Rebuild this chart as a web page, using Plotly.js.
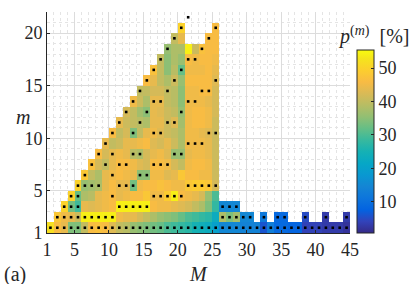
<!DOCTYPE html>
<html>
<head>
<meta charset="utf-8">
<script src="https://cdn.plot.ly/plotly-3.0.1.min.js"></script>
<style>html,body{margin:0;padding:0;background:#fff;}#chart{width:412px;height:284px;}</style>
</head>
<body>
<div id="chart"></div>
<script>
// Columns M = 1..44 (cells span [M, M+1]); rows m = 1..21 (cells span [m, m+1])
const M = [1,2,3,4,5,6,7,8,9,10,11,12,13,14,15,16,17,18,19,20,21,22,23,24,25,26,27,28,29,30,31,32,33,34,35,36,37,38,39,40,41,42,43,44];
const mRows = [1,2,3,4,5,6,7,8,9,10,11,12,13,14,15,16,17,18,19,20,21];

// p^(m) [%] per row m; each list starts at column M = m
const row1  = [52,46,44,34,34,40,46,47,46,43,40,39,36,35,34,33,32,30,29,28,27,25,24,23,20,15,15,15,14,14,14,6,13,9,9,8,8,4,4,4,3,3,3,2];
const row2  = [48,45,44,41,54,54,54,54,54,45,44,44,42,40,38,36,35,34,32,30,29,28,27,23,38,34,37,15,15,null,12,null,9,9,null,null,5,null,null,3,null,null,3];
const row3  = [50,33,29,44,43,44,45,46,54,54,54,54,54,46,45,45,44,43,42,40,38,34,28,15,15,15];
const row4  = [50,32,38,39,44,45,46,44,45,46,46,48,45,45,49,54,46,45,44,42,36,30];
const row5  = [50,36,37,38,44,46,44,44,33,45,46,46,47,46,45,45,48,49,49,48,42];
const row6  = [48,40,38,44,45,46,45,44,35,35,45,45,43,44,48,46,46,45,45,41];
const row7  = [47,42,40,44,46,46,45,43,42,46,46,45,42,40,45,46,46,45,41];
const row8  = [46,42,44,45,44,39,38,42,44,45,43,36,36,44,45,45,44,41];
const row9  = [44,40,41,44,44,45,46,43,42,44,41,38,45,45,45,44,41];
const row10 = [46,40,42,34,40,44,45,43,41,40,38,45,45,44,43,41];
const row11 = [44,41,40,39,38,44,44,41,43,37,45,46,46,45,41];
const row12 = [42,40,37,35,44,43,41,40,36,45,46,46,45,42];
const row13 = [45,41,38,44,44,40,39,35,45,45,45,44,42];
const row14 = [40,40,42,42,40,39,35,45,45,46,46,42];
const row15 = [46,44,40,38,41,36,46,46,46,46,43];
const row16 = [47,40,35,39,32,45,45,45,46,44];
const row17 = [40,35,38,36,46,45,46,46,45];
const row18 = [36,38,38,54,41,47,46,46];
const row19 = [40,44,null,null,null,46,46];
const row20 = [50,null,null,null,null,46];
const row21 = [];

// Columns M marked with a dot, per row m
const dots1  = M.slice();
const dots2  = [2,3,4,5,6,7,8,9,10,26,27,28,29,30,32,34,35,38,41,44];
const dots3  = [3,4,5,11,12,13,14,15,26,27,28];
const dots4  = [4,5,10,16,17,18,19,20];
const dots5  = [5,6,7,8,11,12,13,21,22,23,24,25];
const dots6  = [6,10,14,15];
const dots7  = [7,9,11,12,16,17,18];
const dots8  = [8,10,13,14,19,20];
const dots9  = [9,21,22,23];
const dots10 = [10,13,16,17,24,25];
const dots11 = [11,14,18,19];
const dots12 = [12,15,20];
const dots13 = [13,16,17,21,22];
const dots14 = [14,18,23,24];
const dots15 = [15,19,25];
const dots16 = [16,20];
const dots17 = [17,21,22];
const dots18 = [18,23];
const dots19 = [19,24];
const dots20 = [20,25];
const dots21 = [21];

const xTicks = [1,5,10,15,20,25,30,35,40,45];
const yTicks = [1,5,10,15,20];
const cTicks = [10,20,30,40,50];
const cMin = 0.7, cMax = 55.4;

const rows = [row1,row2,row3,row4,row5,row6,row7,row8,row9,row10,row11,row12,row13,row14,row15,row16,row17,row18,row19,row20,row21];
const dotRows = [dots1,dots2,dots3,dots4,dots5,dots6,dots7,dots8,dots9,dots10,dots11,dots12,dots13,dots14,dots15,dots16,dots17,dots18,dots19,dots20,dots21];

const z = rows.map((r, i) => M.map(c => {
  const k = c - mRows[i];
  return (k >= 0 && k < r.length) ? r[k] : null;
}));
const xEdges = M.concat([M[M.length-1] + 1]);
const yEdges = mRows.concat([mRows[mRows.length-1] + 1]);

const dx = [], dy = [];
dotRows.forEach((d, i) => d.forEach(c => { dx.push(c + 0.5); dy.push(mRows[i] + 0.5); }));

const parula = [
  [0/63,'rgb(53,42,135)'],[4/63,'rgb(50,67,186)'],[8/63,'rgb(3,99,225)'],[12/63,'rgb(13,117,220)'],
  [16/63,'rgb(20,133,212)'],[20/63,'rgb(9,152,209)'],[24/63,'rgb(6,167,198)'],[28/63,'rgb(21,177,180)'],
  [32/63,'rgb(56,185,158)'],[36/63,'rgb(101,190,134)'],[40/63,'rgb(146,191,115)'],[44/63,'rgb(183,189,100)'],
  [48/63,'rgb(217,186,86)'],[52/63,'rgb(248,187,68)'],[56/63,'rgb(252,206,46)'],[60/63,'rgb(245,228,29)'],
  [1,'rgb(249,251,14)']
];

const serif = 'Liberation Serif, DejaVu Serif, serif';
const ink = '#262626';

const traces = [
  {
    type: 'heatmap', x: xEdges, y: yEdges, z: z,
    colorscale: parula, zmin: cMin, zmax: cMax, hoverongaps: false,
    colorbar: {
      x: 1.0227, xanchor: 'left', y: 0, yanchor: 'bottom',
      len: 0.828, lenmode: 'fraction', thickness: 17, thicknessmode: 'pixels',
      xpad: 0, ypad: 0, outlinewidth: 1, outlinecolor: ink,
      tickmode: 'array', tickvals: cTicks, ticks: 'inside', ticklen: 3, tickcolor: ink,
      tickfont: {family: serif, size: 18, color: ink}
    }
  },
  {
    type: 'scatter', mode: 'markers', x: dx, y: dy,
    marker: {symbol: 'square', size: 2.6, color: '#000', line: {width: 0}}, hoverinfo: 'skip'
  }
];

const axisCommon = {
  showline: true, linecolor: ink, linewidth: 1, mirror: false,
  ticks: 'inside', ticklen: 3, tickcolor: ink,
  tickfont: {family: serif, size: 18, color: ink},
  showgrid: true, gridcolor: '#dcdcdc', gridwidth: 1, zeroline: false,
  minor: {tickmode: 'linear', tick0: 0, dtick: 1, showgrid: true, gridcolor: '#e4e4e4', griddash: 'dot', gridwidth: 1, ticks: ''}
};

const layout = {
  width: 412, height: 284,
  margin: {l: 47, r: 57, t: 12, b: 51},
  paper_bgcolor: '#fff', plot_bgcolor: '#fff',
  showlegend: false,
  xaxis: Object.assign({}, axisCommon, {range: [1, 45], tickmode: 'array', tickvals: xTicks}),
  yaxis: Object.assign({}, axisCommon, {range: [1, 22], tickmode: 'array', tickvals: yTicks}),
  annotations: [
    {text: '<i>M</i>', xref: 'paper', yref: 'paper', x: 0.5, y: -0.186, xanchor: 'center', yanchor: 'middle', showarrow: false, font: {family: serif, size: 20, color: ink}},
    {text: '<i>m</i>', xref: 'paper', yref: 'paper', x: -0.08, y: 0.525, xanchor: 'center', yanchor: 'middle', showarrow: false, font: {family: serif, size: 20, color: ink}},
    {text: '(a)', xref: 'paper', yref: 'paper', x: -0.104, y: -0.186, xanchor: 'center', yanchor: 'middle', showarrow: false, font: {family: serif, size: 20, color: ink}},
    {text: '<i>p</i><sup>(<i>m</i>)</sup>  [%]', xref: 'paper', yref: 'paper', x: 1.2, y: 0.895, xanchor: 'right', yanchor: 'middle', showarrow: false, font: {family: serif, size: 20, color: ink}}
  ]
};

Plotly.newPlot('chart', traces, layout, {displayModeBar: false, staticPlot: true});
</script>
</body>
</html>
